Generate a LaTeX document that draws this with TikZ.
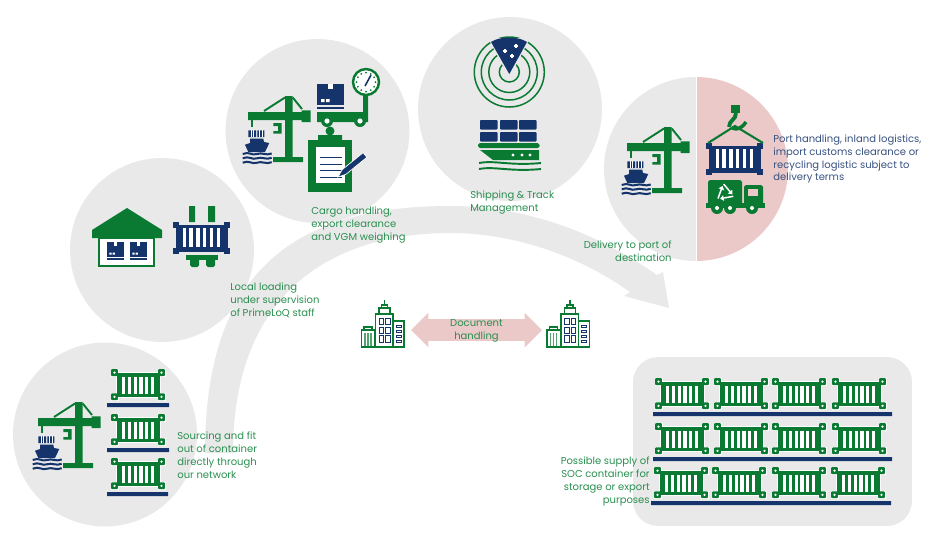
\documentclass[tikz,border=0pt]{standalone}
\usepackage{fontspec}
\setmainfont{Poppins}
\usetikzlibrary{shapes.arrows,arrows.meta}
\definecolor{iconGreen}{HTML}{0A7A32}
\definecolor{textGreen}{HTML}{2A8F50}
\definecolor{iconNavy}{HTML}{14346B}
\definecolor{bgGrey}{HTML}{E9E9E9}
\definecolor{bgPink}{HTML}{EBC9C8}
\tikzset{
  spot/.style = {shape=circle,fill=bgGrey,minimum size=3.68cm,inner sep=0pt},
  panel/.style = {shape=rectangle,fill=bgGrey,rounded corners=0.5cm,minimum width=5.58cm,minimum height=3.38cm},
  caption/.style = {font=\fontsize{5.7}{7.37}\selectfont,inner sep=0pt,text=textGreen},
  shelf/.style = {fill=iconNavy},
  crate/.pic = {
    \foreach \cx in {3.5,50.5} \foreach \cy in {3.6,27.8}
      \fill[white] (\cx-4,\cy-4) rectangle ++(8,8);
    \fill[iconGreen,draw=white,line width=0.3pt] (5,3) rectangle (49,28.5);
    \foreach \k in {0,...,5} \fill[white] (11+5.8*\k,7.5) rectangle ++(3.1,17);
    \foreach \cx in {3.5,50.5} \foreach \cy in {3.6,27.8} {
      \fill[iconGreen,rounded corners=0.5pt] (\cx-3.4,\cy-3.4) rectangle ++(6.8,6.8);
      \fill[white] (\cx,\cy) circle[radius=1.3];
    }
  },
  navybox/.pic = {
    \fill[iconNavy] (2.5,3) rectangle (54.5,30);
    \foreach \cx in {0,51} \foreach \cy in {0,26} \fill[iconNavy] (\cx,\cy) rectangle ++(6,6);
    \foreach \k in {0,...,5} \fill[white] (9.5+6.9*\k,6) rectangle ++(3.2,19);
  },
  parcel/.pic = {
    \fill[iconNavy] (0,0) rectangle (27,21);
    \fill[white] (11,0) rectangle (16,5);
    \fill[white] (4,15) rectangle (7.5,18) (9,15) rectangle (12.5,18);
    \fill[iconNavy] (0,23) rectangle (27,25);
  },
  crane/.pic = {
    % crane
    \fill[iconGreen] (43,0) rectangle (50.7,61) (31,61) rectangle (61,66);
    \fill[iconGreen] (6,16) rectangle (60,24) (59.7,14.3) rectangle (68.7,26);
    \draw[iconGreen,line width=1.1pt] (43,1.5) -- (22,15) (50.7,1.5) -- (60,13);
    \fill[iconGreen] (8.7,24) rectangle (11.3,31);
    \fill[iconGreen] (31.3,27) -- (39.7,27) -- (39.7,37.7) -- (31.3,37.7) -- (31.3,35) -- (36,35) -- (36,30) -- (31.3,30) -- cycle;
    % ship
    \fill[iconNavy] (6.3,34.3) rectangle (14,41) (15.3,34.3) rectangle (22.3,41);
    \draw[white,line width=0.3pt] (8.8,34.3) -- (8.8,41) (11.4,34.3) -- (11.4,41) (17.6,34.3) -- (17.6,41) (20,34.3) -- (20,41);
    \fill[iconNavy] (8,42.7) -- (21.3,42.7) -- (22,46) -- (27.3,47) -- (23,56) -- (6.3,56) -- (3,48.7) -- (8,47) -- cycle;
    \foreach \wy in {58,62.3,66.7}
      \draw[iconNavy,line width=1.15pt] (0.7,\wy) .. controls (7,\wy-3) and (10,\wy+2) .. (15,\wy) .. controls (20,\wy-2) and (24,\wy+2) .. (29.7,\wy-0.5);
  },
  tower/.pic = {
    \draw[iconGreen,line width=0.65pt] (23.5,0) -- (23.5,5);
    \draw[iconGreen,line width=0.75pt,fill=white] (18,8) rectangle (29,14) (20.5,5) rectangle (26.5,8);
    \draw[iconGreen,line width=0.75pt,fill=white] (0.5,30) rectangle (14,47) (3,27) rectangle (11,30);
    \draw[iconGreen,line width=0.75pt,fill=white] (32,21) rectangle (43,47);
    \draw[iconGreen,line width=0.75pt,fill=white] (14.5,14) rectangle (32,47);
    \foreach \bx in {4,7,10} \draw[iconGreen!70,line width=0.6pt] (\bx,33) -- (\bx,46);
    \foreach \wy in {18,27,35.5} \foreach \wx in {18,24.5}
      \draw[iconNavy,line width=0.5pt] (\wx,\wy) rectangle ++(4.5,6.5);
    \foreach \wy in {25,30,35,40}
      \draw[iconNavy,line width=0.5pt] (35,\wy) rectangle ++(5,2.6);
  }
}
\begin{document}
\begin{tikzpicture}[x=0.02cm,y=-0.02cm]
        \useasboundingbox (0,0) rectangle (940,542);
        % sweeping arrow behind everything
        \fill[bgGrey] (205,453) .. controls (205,280) and (285,206) .. (450,206)
          .. controls (530,206) and (600,235) .. (657,275) -- (663,272) -- (669,308) -- (624,296) -- (630,292)
          .. controls (575,253) and (510,233) .. (450,233)
          .. controls (335,233) and (233,290) .. (233,453) -- cycle;
        % circles
        \node[spot] (sourcingspot) at (105,434.5) {};
        \node[spot] (loadingspot) at (162,250) {};
        \node[spot] (cargospot) at (317.5,131) {};
        \node[spot] (shippingspot) at (510,109) {};
        \fill[bgGrey] (696,77) arc[start angle=-90,end angle=-270,radius=92] -- cycle;
        \fill[bgPink] (696,77) arc[start angle=-90,end angle=90,radius=92] -- cycle;
        \draw[white,line width=0.5pt] (696.3,77) -- (696.3,261);
        \node[panel] (yardpanel) at (772.5,441.5) {};
        % sourcing
        \pic (cranea) at (32,402) {crane};
        \pic (cratea) at (111,369) {crate};
        \pic (crateb) at (111,414) {crate};
        \pic (cratec) at (111,458) {crate};
        \fill[shelf] (107,403) rectangle (169,407) (107,448) rectangle (169,452) (107,492) rectangle (168,496);
        % warehouse
        \fill[iconGreen] (127,208) -- (162,230) -- (162,238) -- (92,238) -- (92,230) -- cycle;
        \draw[iconGreen,line width=1.1pt,fill=white] (99,238) rectangle (154,266);
        \pic[xscale=0.62,yscale=0.7] (parcela) at (107,242) {parcel};
        \pic[xscale=0.62,yscale=0.7] (parcelb) at (130,242) {parcel};
        % loading container
        \fill[iconGreen] (189,206) rectangle (195,222) (208,206) rectangle (215,222);
        \pic (navya) at (173,222) {navybox};
        \fill[iconGreen] (186,255) rectangle (218,260);
        \fill[iconGreen,rounded corners=1pt] (190,258) rectangle (199,267) (206,258) rectangle (215,267);
        % cargo handling
        \pic (craneb) at (242,96) {crane};
        \pic (parcelc) at (317,84) {parcel};
        \fill[iconGreen] (317,112) -- (363,112) -- (363,90) -- (368,90) -- (368,122) -- (317,122) -- cycle;
        \draw[iconGreen,line width=1.4pt,fill=white] (366,82) circle[radius=13];
        \foreach \a in {0,30,...,330} \fill[iconGreen] (366,82) ++(\a:9.5) circle[radius=1];
        \draw[iconNavy,line width=0.9pt] (365,86) -- (371,75);
        \foreach \wx in {327,360} {
          \fill[iconGreen] (\wx,121) circle[radius=6];
          \fill[white] (\wx,121) circle[radius=2.6];
        }
        % clipboard
        \fill[iconGreen] (308,140) rectangle (352,192);
        \fill[iconGreen] (330,131) circle[radius=4.5] (318,135) rectangle (342,146);
        \fill[white] (316,147) rectangle (345,183);
        \foreach \ly in {157,163.5,170,177} \fill[iconNavy] (320,\ly) rectangle (342,\ly+1.2);
        \fill[iconNavy,draw=white,line width=0.4pt] (338,177) -- (342.1,169.7) -- (363.1,152.7) -- (366.9,157.3) -- (345.9,174.3) -- cycle;
        % radar
        \foreach \r in {35,28,20.5,10}
          \draw[iconGreen,line width=0.85pt] (509.3,72) circle[radius=\r];
        \fill[bgGrey] (509.3,78) -- (488,38) -- (530,38) -- cycle;
        \fill[iconNavy] (509.3,74) -- (491,42) .. controls (500,36) and (518,36) .. (527,42) -- cycle;
        \foreach \sx/\sy in {505/51,516/46,512/56}
          \draw[white,line width=0.7pt] (\sx-2.2,\sy) -- (\sx+2.2,\sy) (\sx,\sy-2.2) -- (\sx,\sy+2.2);
        % vessel
        \foreach \cx in {480,500,519} \foreach \cy in {120,132}
          \fill[iconNavy,rounded corners=0.5pt] (\cx,\cy) rectangle ++(17.5,9.5);
        \fill[iconGreen,rounded corners=1pt] (478,143) rectangle (539.5,148);
        \fill[iconGreen] (480,150) -- (539,150) -- (539,160) -- (493,160) -- cycle;
        \foreach \dx in {513,522,530} \fill[white] (\dx,155) circle[radius=1.7];
        \foreach \wy in {163,169}
          \draw[iconGreen,line width=1.1pt] (479,\wy) .. controls (495,\wy-3) and (510,\wy+3) .. (541,\wy);
        % destination
        \pic (cranec) at (621,127) {crane};
        \pic (navyb) at (706,143) {navybox};
        \draw[iconGreen,line width=1.2pt] (708,143) -- (735,126) -- (763,143);
        \fill[iconGreen] (731,105) rectangle (740,113);
        \draw[iconGreen,line width=2.2pt] (736,113) .. controls (736,120) and (729,120) .. (729,127);
        \draw[iconGreen,line width=2pt] (732,128) .. controls (737,130) and (741,129) .. (746,122);
        % truck
        \fill[iconGreen,rounded corners=1pt] (708,180) rectangle (742,206);
        \fill[iconGreen,rounded corners=1pt] (744,185) rectangle (763,206);
        \fill[iconGreen] (706,203) rectangle (765,208);
        \fill[bgPink] (748,189) rectangle (758,196);
        \foreach \wx in {717,730,752} {
          \fill[iconGreen] (\wx,208) circle[radius=6];
          \fill[white] (\wx,208) circle[radius=2];
        }
        \foreach \a in {0,120,240}
          \draw[white,line width=0.85pt,-{Triangle[length=2pt,width=3.2pt]},rotate around={\a:(725,193)}] (718,198.5) -- (722.5,186);
        % document exchange
        \pic (officea) at (361,300) {tower};
        \pic (officeb) at (546.5,300) {tower};
        \node[double arrow,fill=bgPink,inner sep=0pt,text height=0.42cm,text depth=0pt,minimum height=2.62cm,double arrow head extend=0.13cm] (docarrow) at (476.5,330) {};
        \node[caption,align=center] (document) at (476.5,330.5) {Document\\handling};
        % yard
        \foreach \cx in {655,714,772,832} \foreach \cy in {378,423} \pic at (\cx,\cy) {crate};
        \foreach \cx in {654,712,772,831} \pic at (\cx,467) {crate};
        \fill[shelf] (653,412) rectangle (892,416) (653,457) rectangle (892,461) (651,501) rectangle (891,505);
        % captions
        \node[caption,anchor=west,align=left] (sourcing) at (177,455) {Sourcing and fit\\out of container\\directly through\\our network};
        \node[caption,anchor=west,align=left] (loading) at (230,300) {Local loading\\under supervision\\of PrimeLoQ staff};
        \node[caption,anchor=west,align=left] (cargo) at (311,225) {Cargo handling,\\export clearance\\and VGM weighing};
        \node[caption,anchor=west,align=left] (shipping) at (470,202.5) {Shipping \& Track\\Management};
        \node[caption,anchor=east,align=right] (delivery) at (672,251.5) {Delivery to port of\\destination};
        \node[caption,anchor=west,align=left,text=iconNavy!85] (porthandling) at (773,159) {Port handling, inland logistics,\\import customs clearance or\\recycling logistic subject to\\delivery terms};
        \node[caption,anchor=east,align=right] (supply) at (650,481.5) {Possible supply of\\SOC container for\\storage or export\\purposes};
\end{tikzpicture}
\end{document}
